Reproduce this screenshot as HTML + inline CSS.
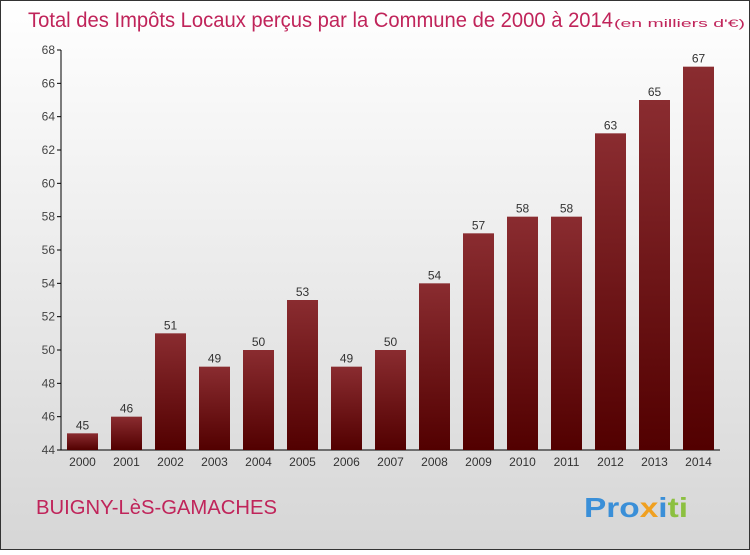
<!DOCTYPE html>
<html><head><meta charset="utf-8"><style>
body{margin:0}
svg text{font-family:"Liberation Sans",sans-serif}
</style></head><body>
<svg width="750" height="550" xmlns="http://www.w3.org/2000/svg">
<defs>
<linearGradient id="bg" x1="0" y1="0" x2="0" y2="1"><stop offset="0" stop-color="#ffffff"/><stop offset="1" stop-color="#d6d6d6"/></linearGradient>
<linearGradient id="bar" x1="0" y1="0" x2="0" y2="1"><stop offset="0" stop-color="#8a2c30"/><stop offset="1" stop-color="#520000"/></linearGradient>
</defs>
<rect x="0.5" y="0.5" width="749" height="549" fill="url(#bg)" stroke="#333"/>
<text x="28" y="27" font-size="21" fill="#c0245a" textLength="585" lengthAdjust="spacingAndGlyphs">Total des Impôts Locaux perçus par la Commune de 2000 à 2014</text>
<text x="614" y="27" font-size="11" fill="#c0245a" textLength="131" lengthAdjust="spacingAndGlyphs">(en milliers d'€)</text>
<g id="axes"></g>
<g id="bars"></g>
<text x="36" y="514" font-size="20" fill="#c0245a" textLength="241" lengthAdjust="spacingAndGlyphs">BUIGNY-LèS-GAMACHES</text>
<text x="584" y="517" font-size="28" font-weight="bold" textLength="104" lengthAdjust="spacingAndGlyphs"><tspan fill="#3a8fd8">Pro</tspan><tspan fill="#f0a020">x</tspan><tspan fill="#3a8fd8">i</tspan><tspan fill="#8cc040">ti</tspan></text>
</svg>
<script>
const years=["2000","2001","2002","2003","2004","2005","2006","2007","2008","2009","2010","2011","2012","2013","2014"];
const values=[45,46,51,49,50,53,49,50,54,57,58,58,63,65,67];
const yTicks=[44,46,48,50,52,54,56,58,60,62,64,66,68];
const NS="http://www.w3.org/2000/svg";
const y=v=>450-(v-44)*400/24;
const x=i=>67+i*44;
function mk(t,a,p){const e=document.createElementNS(NS,t);for(const k in a)e.setAttribute(k,a[k]);p.appendChild(e);return e;}
const ax=document.getElementById('axes'),bg=document.getElementById('bars');
let l=mk('line',{x1:61,y1:50,x2:61,y2:450,stroke:'#000'},ax);


l=mk('line',{x1:61,y1:450,x2:720,y2:450,stroke:'#000'},ax);


yTicks.forEach(v=>{
 const t=mk('line',{x1:57,y1:y(v),x2:61,y2:y(v),stroke:'#000'},ax);
 
 
 const tx=mk('text',{x:55,y:y(v)+4,'font-size':12,fill:'#444','text-anchor':'end'},ax);
 tx.textContent=v;
 
 
});
values.forEach((v,i)=>{
 const r=mk('rect',{x:x(i),y:y(v),width:31,height:450-y(v),fill:'url(#bar)'},bg);
 
 
 const t=mk('text',{x:x(i)+15.5,y:y(v)-4,'font-size':12,fill:'#333','text-anchor':'middle'},bg);
 t.textContent=v;
 
 
 const xl=mk('text',{x:x(i)+15.5,y:466,'font-size':12,fill:'#333','text-anchor':'middle'},bg);
 xl.textContent=years[i];
 
 
});
</script>
</body></html>
